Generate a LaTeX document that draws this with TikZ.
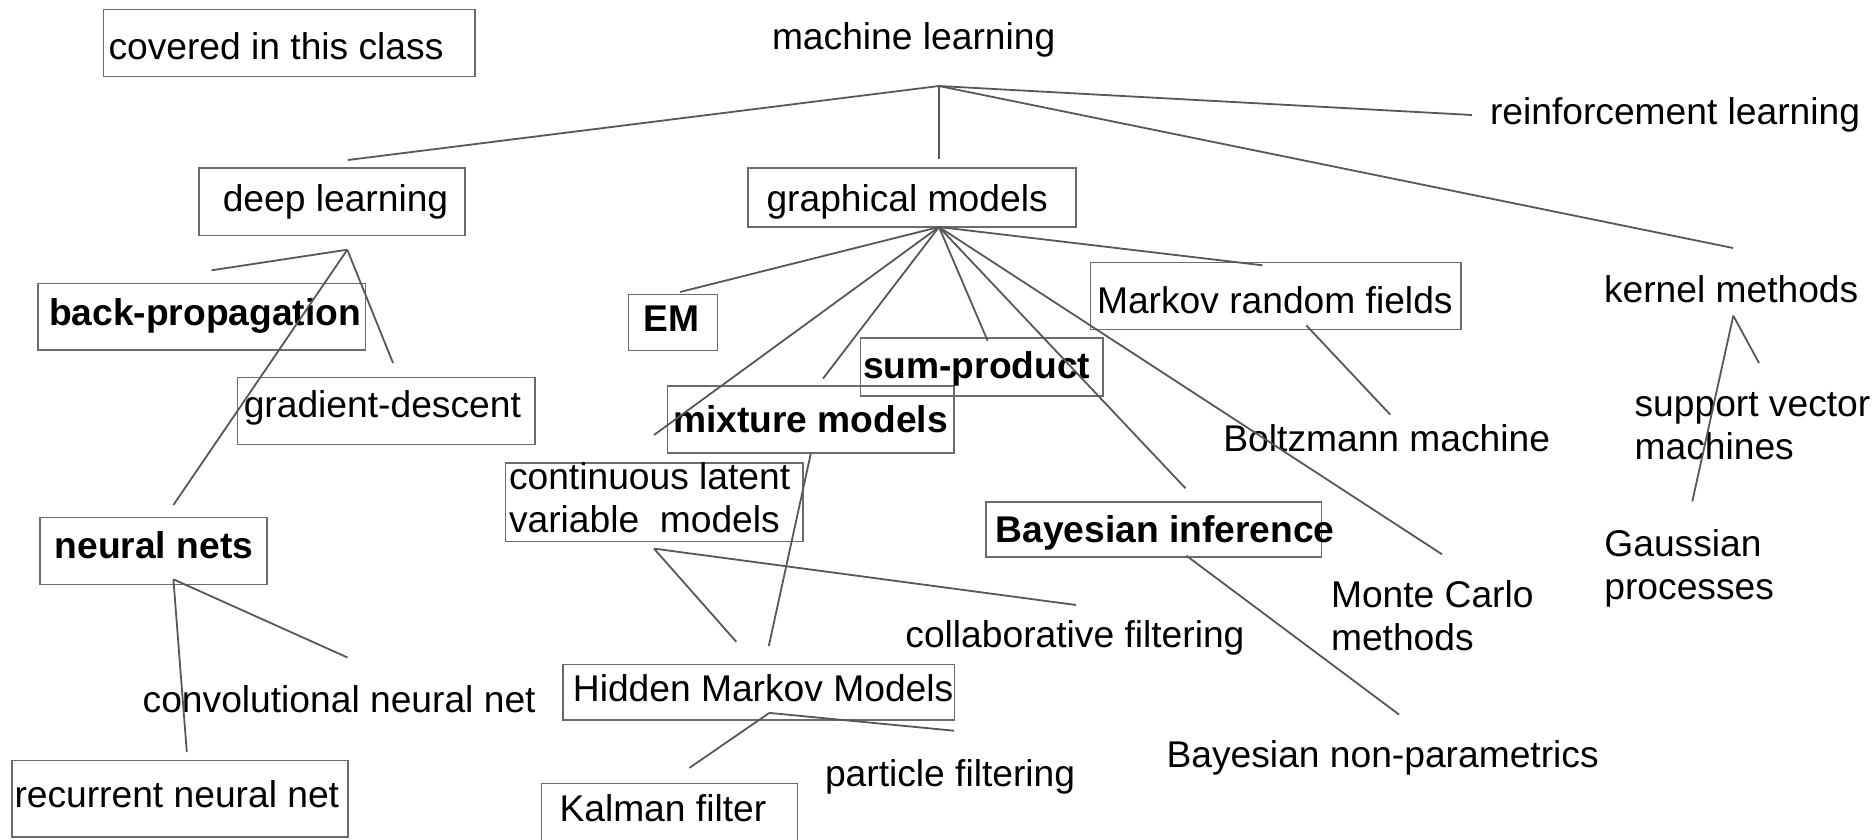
\documentclass[tikz,border=0pt]{standalone}
\usepackage{fontspec}
\setmainfont{Liberation Sans}
\usetikzlibrary{fit}
\definecolor{edgegray}{HTML}{575757}
\definecolor{framegray}{HTML}{6B6B6B}
\tikzset{
  lbl/.style={anchor=base west, inner sep=0pt, outer sep=0pt, text=black,
    font=\fontsize{18.6pt}{21.5pt}\selectfont},
  boldlbl/.style={lbl, font=\fontsize{18.6pt}{21.5pt}\selectfont\bfseries},
  frame/.style={draw=framegray, line width=0.75pt, inner sep=0pt, outer sep=0pt},
  branch/.style={draw=edgegray, line width=0.9pt},
}
\newcommand{\twolines}[2]{\begin{tabular}[t]{@{}l@{}}#1\\#2\end{tabular}}
\begin{document}
\begin{tikzpicture}[x=0.5pt, y=-0.5pt]
\useasboundingbox (0,0) rectangle (1874,840);
\clip (0,0) rectangle (1874,840);

% ---------- boxes ----------
\node[frame, fit={(103.6,9.3) (475,76.7)}]    (coveredbox) {};
\node[frame, fit={(199,168) (465,235.7)}]      (dlbox) {};
\node[frame, fit={(748.2,168) (1075.9,227)}]   (gmbox) {};
\node[frame, fit={(37.9,283.6) (365.5,350)}]   (bpbox) {};
\node[frame, fit={(628.7,294.6) (717.5,350.4)}] (embox) {};
\node[frame, fit={(1090.3,262.3) (1460.8,329.3)}] (mrfbox) {};
\node[frame, fit={(860.4,337.9) (1102.8,396)}] (spbox) {};
\node[frame, fit={(237.7,377.5) (535,444.6)}]  (gdbox) {};
\node[frame, fit={(667.5,386) (954,452.9)}]    (mixbox) {};
\node[frame, fit={(505.4,463.2) (803.2,541.4)}] (clvbox) {};
\node[frame, fit={(40.2,517.5) (267.1,584.6)}] (nnbox) {};
\node[frame, fit={(985.8,501.8) (1321.6,557.1)}] (bibox) {};
\node[frame, fit={(563,664.6) (954.6,720)}]    (hmmbox) {};
\node[frame, fit={(11.9,760.4) (347.9,837)}]   (rnnbox) {};
\node[frame, fit={(541.6,783.6) (797.4,860)}]  (kfbox) {};

% ---------- labels ----------
\node[lbl] (covered) at (108.5,59.3) {covered in this class};
\node[lbl] (ml)      at (772,49.5)   {machine learning};
\node[lbl] (rl)      at (1490,125)   {reinforcement learning};
\node[lbl] (dl)      at (222.8,212)  {deep learning};
\node[lbl] (gm)      at (766.5,212)  {graphical models};
\node[boldlbl] (bp)  at (49,325)     {back-propagation};
\node[boldlbl] (em)  at (643.8,331)  {EM};
\node[lbl] (mrf)     at (1097,313)   {Markov random fields};
\node[lbl] (km)      at (1604,302)   {kernel methods};
\node[boldlbl] (sp)  at (863,378)    {sum-product};
\node[lbl] (gd)      at (243.8,417.5) {gradient-descent};
\node[boldlbl] (mix) at (673,432)    {mixture models};
\node[lbl] (bm)      at (1223.4,451.4) {Boltzmann machine};
\node[lbl] (svm)     at (1634.6,416) {\twolines{support vector}{machines}};
\node[lbl] (clv)     at (509,489)    {\twolines{continuous latent}{variable\ \ models}};
\node[boldlbl] (nn)  at (54.7,558.5) {neural nets};
\node[boldlbl] (bi)  at (995.6,542.5) {Bayesian inference};
\node[lbl] (gp)      at (1604.4,556) {\twolines{Gaussian}{processes}};
\node[lbl] (mc)      at (1331,607)   {\twolines{Monte Carlo}{methods}};
\node[lbl] (cf)      at (905.4,647)  {collaborative filtering};
\node[lbl] (cnn)     at (142.7,712)  {convolutional neural net};
\node[lbl] (hmm)     at (572.9,701)  {Hidden Markov Models};
\node[lbl] (pf)      at (825,786)    {particle filtering};
\node[lbl] (bnp)     at (1166.6,767.5) {Bayesian non-parametrics};
\node[lbl] (rnn)     at (14.5,807)   {recurrent neural net};
\node[lbl] (kf)      at (559.5,821)  {Kalman filter};

% ---------- branch points and free line ends ----------
\coordinate (mlj)  at (939,86);
\coordinate (toDL) at (348,160);
\coordinate (toGM) at (939,159);
\coordinate (toRL) at (1472,115);
\coordinate (toKM) at (1733,248);

\coordinate (dlj)  at (347.3,249.7);
\coordinate (toBP) at (211.6,270.3);
\coordinate (toGD) at (393,363);
\coordinate (toNN) at (173.4,505);

\coordinate (gmj)   at (939,227);
\coordinate (toEM)  at (680,292);
\coordinate (toCLV) at (654,435);
\coordinate (toMIX) at (823,378.6);
\coordinate (toSP)  at (987.6,340.7);
\coordinate (toBI)  at (1185.4,488.2);
\coordinate (toMC)  at (1442,554.3);
\coordinate (toMRF) at (1262.5,265.3);

\coordinate (nnj)   at (173.4,579.3);
\coordinate (toCNN) at (347.5,657.5);
\coordinate (toRNN) at (186.8,752);

\coordinate (mixj)   at (810.8,453.6);
\coordinate (mixHMM) at (768.8,646);

\coordinate (clvj)   at (654,548.6);
\coordinate (clvHMM) at (736.3,641.8);
\coordinate (toCF)   at (1076,605);

\coordinate (hmmj) at (769.3,712.9);
\coordinate (toPF) at (954,730.7);
\coordinate (toKF) at (689.4,767.9);

\coordinate (mrfj) at (1306.3,325.4);
\coordinate (toBM) at (1390.2,414.6);

\coordinate (bij)   at (1186.4,555.7);
\coordinate (toBNP) at (1399.1,714.6);

\coordinate (kmj)   at (1733.3,315.7);
\coordinate (toSVM) at (1759,363);
\coordinate (toGP)  at (1692.3,501.4);

% ---------- connectors ----------
\draw[branch] (mlj) -- (toDL);
\draw[branch] (mlj) -- (toGM);
\draw[branch] (mlj) -- (toRL);
\draw[branch] (mlj) -- (toKM);

\draw[branch] (dlj) -- (toBP);
\draw[branch] (dlj) -- (toGD);
\draw[branch] (dlj) -- (toNN);

\draw[branch] (gmj) -- (toEM);
\draw[branch] (gmj) -- (toCLV);
\draw[branch] (gmj) -- (toMIX);
\draw[branch] (gmj) -- (toSP);
\draw[branch] (gmj) -- (toBI);
\draw[branch] (gmj) -- (toMC);
\draw[branch] (gmj) -- (toMRF);

\draw[branch] (nnj) -- (toCNN);
\draw[branch] (nnj) -- (toRNN);

\draw[branch] (mixj) -- (mixHMM);
\draw[branch] (clvj) -- (clvHMM);
\draw[branch] (clvj) -- (toCF);

\draw[branch] (hmmj) -- (toPF);
\draw[branch] (hmmj) -- (toKF);

\draw[branch] (mrfj) -- (toBM);
\draw[branch] (bij) -- (toBNP);

\draw[branch] (kmj) -- (toSVM);
\draw[branch] (kmj) -- (toGP);
\end{tikzpicture}
\end{document}
